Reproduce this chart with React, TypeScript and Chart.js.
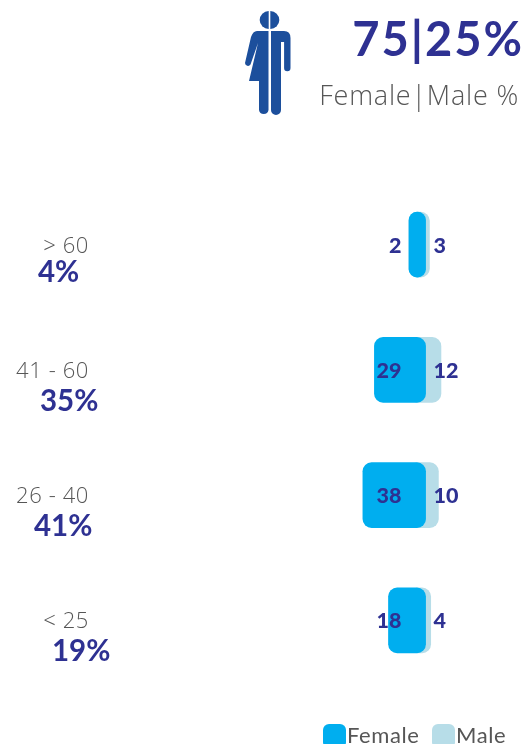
import React, { useEffect, useRef } from "react";
import { Chart, registerables } from "chart.js";

Chart.register(...registerables);

const categories = ["> 60", "41 - 60", "26 - 40", "< 25"];
const shares = ["4%", "35%", "41%", "19%"];
const female = [2, 29, 38, 18];
const male = [3, 12, 10, 4];
const headline = "75|25%";
const subtitle = "Female|Male %";

// layout only
const BASE = 11;
const MALE_UNDERLAP = 13;
const shareLeft = [38, 40, 34, 52];
const NAVY = "#2e3192";
const GRAY = "#565656";
const FEMALE_COLOR = "#00aeef";
const MALE_COLOR = "#b7dde8";

const textPlugin = {
  id: "texts",
  afterDatasetsDraw(chart: any) {
    const { ctx, scales } = chart;
    const x = scales.x;
    const y = scales.y;
    ctx.save();
    ctx.textBaseline = "alphabetic";

    ctx.fillStyle = NAVY;
    ctx.textAlign = "right";
    ctx.font = "bold 47px Lato";
    ctx.letterSpacing = "2px";
    ctx.fillText(headline, 524, 56);
    ctx.fillStyle = GRAY;
    ctx.font = "300 27px 'Open Sans'";
    ctx.letterSpacing = "0.8px";
    ctx.fillText(subtitle, 519, 105);

    categories.forEach((c, i) => {
      const cy = y.getPixelForValue(i);
      ctx.textAlign = "right";
      ctx.fillStyle = GRAY;
      ctx.font = "300 22px 'Open Sans'";
      ctx.letterSpacing = "0.6px";
      ctx.fillText(c, 89, cy + 8);
      ctx.letterSpacing = "0px";
      ctx.textAlign = "left";
      ctx.fillStyle = NAVY;
      ctx.font = "bold 29.5px Lato";
      ctx.fillText(shares[i], shareLeft[i], cy + 37 + (i === 0 ? 0 : 4));
      ctx.font = "900 21.5px Lato";
      ctx.textAlign = "right";
      ctx.fillText(String(female[i]), x.getPixelForValue(0) - 10, cy + 8);
      ctx.textAlign = "left";
      ctx.fillText(String(male[i]), x.getPixelForValue(BASE) + 8, cy + 8);
    });

    // legend
    const items = chart.data.datasets;
    const lefts = [323, 432];
    items.forEach((d: any, i: number) => {
      ctx.fillStyle = d.backgroundColor;
      ctx.beginPath();
      ctx.roundRect(lefts[i], 724, 23, 24, 6);
      ctx.fill();
      ctx.fillStyle = GRAY;
      ctx.font = "22px Lato";
      ctx.letterSpacing = "0.6px";
      ctx.textAlign = "left";
      ctx.fillText(d.label, lefts[i] + 24, 743);
    });
    ctx.restore();
  },
};

export default function App() {
  const ref = useRef<HTMLCanvasElement>(null);
  useEffect(() => {
    const chart = new Chart(ref.current as HTMLCanvasElement, {
      type: "bar",
      data: {
        labels: categories,
        datasets: [
          {
            label: "Female",
            data: female.map((v) => [-v, BASE]),
            backgroundColor: FEMALE_COLOR,
            grouped: false,
            barThickness: 65,
            borderRadius: 9,
            borderSkipped: false,
          },
          {
            label: "Male",
            data: male.map((v) => [BASE - MALE_UNDERLAP, BASE + v]),
            backgroundColor: MALE_COLOR,
            grouped: false,
            barThickness: 65,
            borderRadius: 9,
            borderSkipped: false,
          },
        ],
      } as any,
      options: {
        indexAxis: "y",
        animation: false,
        responsive: false,
        layout: { padding: { top: 182, bottom: 61, left: 0, right: 0 } },
        plugins: { legend: { display: false }, tooltip: { enabled: false } },
        scales: {
          x: { display: false, min: -321.5, max: 89.44 },
          y: { display: false },
        },
      } as any,
      plugins: [textPlugin],
    });
    return () => chart.destroy();
  }, []);
  return (
    <div style={{ position: "absolute", left: 0, top: 0, width: 526, height: 744, overflow: "hidden", background: "#fff" }}>
      <canvas ref={ref} width={526} height={744} style={{ display: "block" }} />
      <svg width={526} height={130} style={{ position: "absolute", left: 0, top: 0 }}>
        <g fill="#1c4f9c">
          <path d="M268.7 11 A9 9 0 0 0 268.7 29 Z" />
          <path d="M270.3 11 A9 9 0 0 1 270.3 29 Z" />
          <path d="M271 31 H284 Q290.5 31 290.5 38 V68 a3.2 3.2 0 0 1 -6.4 0 V42 H282 V42 H281 V110 a5 5 0 0 1 -10 0 Z" />
          <path d="M268.5 31 H257 Q253 31 251 37 L245 63 a3 3 0 0 0 5.5 1.5 L258 43 L249 81 H259 V110 a4.8 4.8 0 0 0 9.5 0 Z" />
        </g>
      </svg>
    </div>
  );
}
